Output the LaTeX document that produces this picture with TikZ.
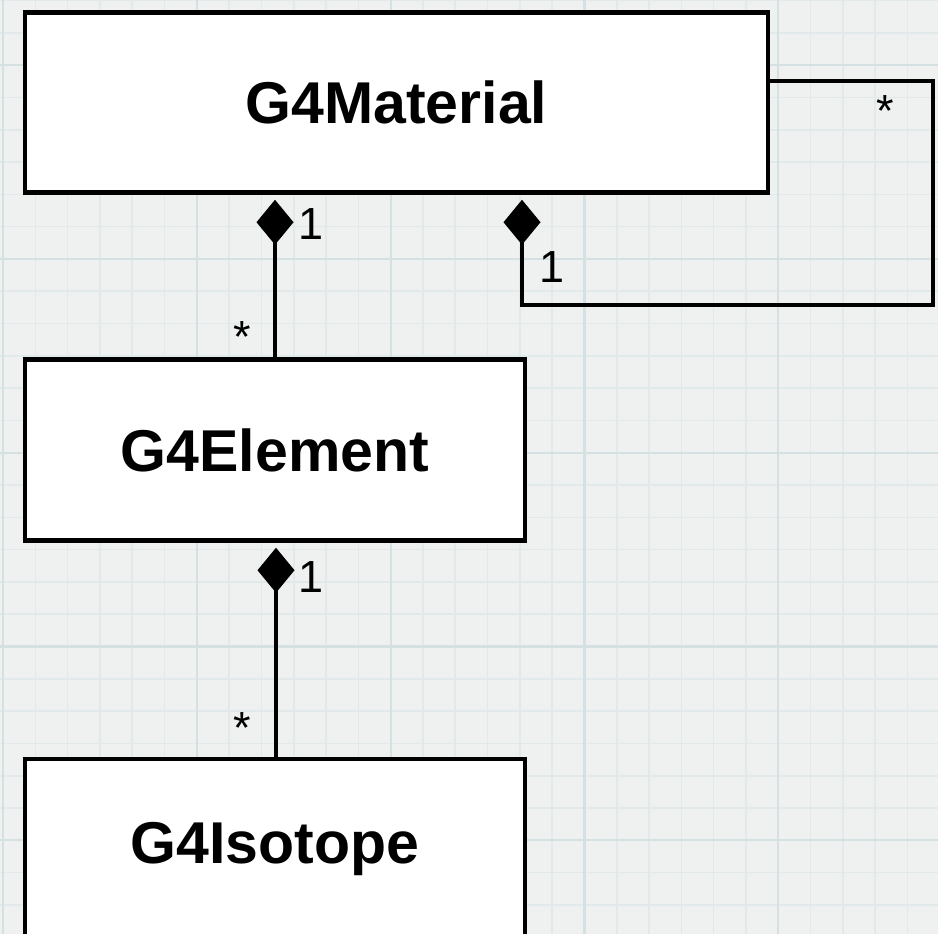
\documentclass[tikz,border=0pt]{standalone}
\usepackage{fontspec}
\setmainfont{Liberation Sans}
\usetikzlibrary{arrows.meta,calc}

\definecolor{paper}{HTML}{EFF0F0}
\definecolor{gridminor}{HTML}{E2E9EA}
\definecolor{gridmajor}{HTML}{D5E0E3}

\tikzset{
  classbox/.style={draw=black, fill=white, line width=4.5pt, inner sep=0pt,
    font=\fontsize{59}{59}\selectfont\bfseries},
  comp/.style={draw=black, line width=4.5pt,
    {Diamond[length=45pt, width=37pt, line width=0pt]}-, shorten <=5pt},
  mult/.style={font=\fontsize{45}{45}\selectfont, inner sep=0pt}
}

\begin{document}
\begin{tikzpicture}[x=1pt, y=-1pt]
  % page and squared paper
  \useasboundingbox (0,0) rectangle (938,934);
  \fill[paper] (0,0) rectangle (938,934);
  \foreach \i in {0,...,29} {
    \pgfmathsetmacro{\gx}{3+32.3*\i}
    \pgfmathsetmacro{\gy}{0.5+32.3*\i}
    \draw[gridminor, line width=1.6pt] (\gx,0) -- (\gx,934);
    \draw[gridminor, line width=1.6pt] (0,\gy) -- (938,\gy);
  }
  \foreach \i in {0,...,4} {
    \pgfmathsetmacro{\gx}{3+193.8*\i}
    \pgfmathsetmacro{\gy}{65+193.8*\i}
    \draw[gridmajor, line width=2.2pt] (\gx,0) -- (\gx,934);
    \draw[gridmajor, line width=2.2pt] (0,\gy) -- (938,\gy);
  }

  % classes
  \node[classbox, minimum width=743pt, minimum height=180pt] (mat) at (396.5,102.5) {G4Material};
  \node[classbox, minimum width=500pt, minimum height=181pt] (elem) at (275,450) {G4Element};
  \node[classbox, minimum width=500pt, minimum height=181pt] (iso) at (275,849.5) {G4Isotope};

  % corner points of the self association
  \coordinate (selfA) at (522,305);
  \coordinate (selfB) at (933,81);

  % compositions
  \draw[comp] (elem.north |- mat.south) -- (elem.north);
  \draw[comp] ([xshift=1pt]elem.south) -- ([xshift=1pt]iso.north);
  \draw[comp] (mat.south -| selfA) -- (selfA) -| (selfB) -- (mat.east |- selfB);

  % multiplicities
  \node[mult] (m1) at (311,224) {1};
  \node[mult] (m2) at (242,337) {*};
  \node[mult] (m3) at (311,577) {1};
  \node[mult] (m4) at (242,728) {*};
  \node[mult] (m5) at (552,267) {1};
  \node[mult] (m6) at (885,111) {*};
\end{tikzpicture}
\end{document}
